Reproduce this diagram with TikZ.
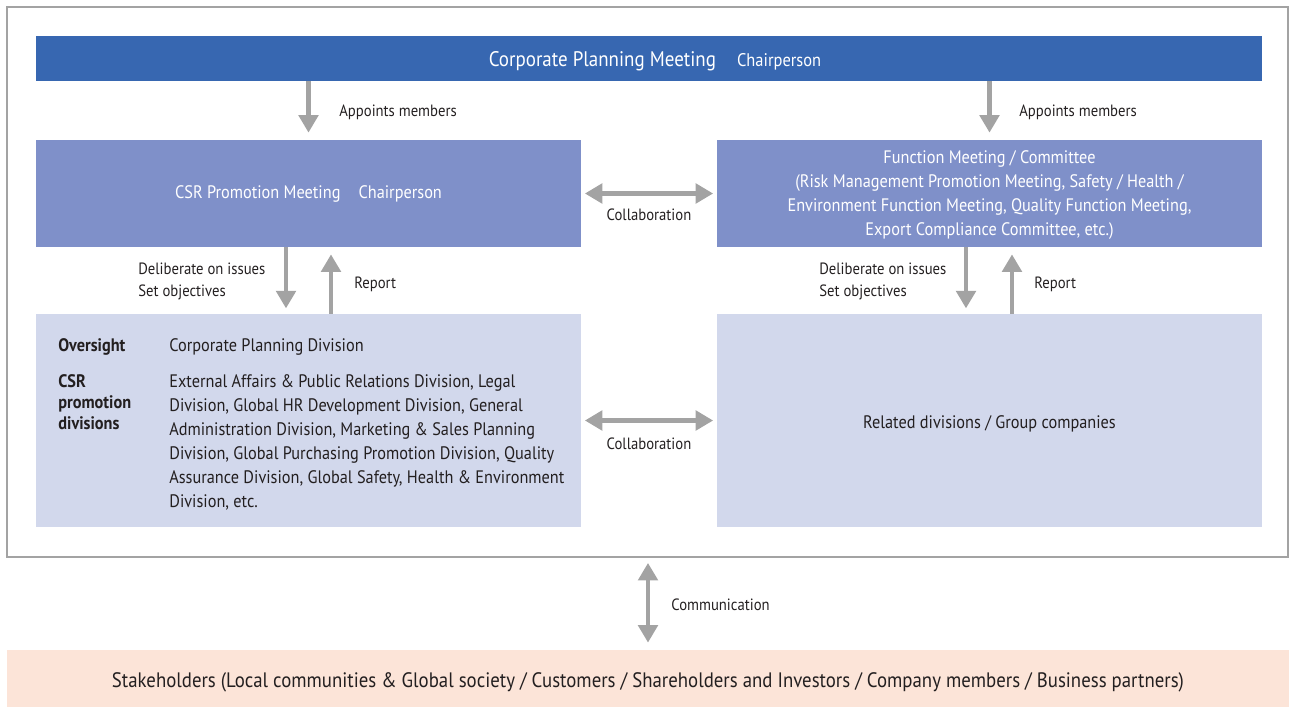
\documentclass[tikz,border=0pt]{standalone}
\usepackage{fontspec}
\setmainfont[FakeStretch=0.9]{PT Sans}
\usepackage{tikz}
\usetikzlibrary{arrows.meta}

\definecolor{topblue}{HTML}{3767B1}
\definecolor{midblue}{HTML}{7F90C9}
\definecolor{lowblue}{HTML}{D2D8EC}
\definecolor{stakepink}{HTML}{FCE4D8}
\definecolor{arrowgray}{HTML}{A3A3A3}
\definecolor{textdark}{HTML}{231F20}

\begin{document}
\begin{tikzpicture}[
    x=0.02cm, y=-0.02cm,
    font=\fontsize{10.3}{13.66}\selectfont,
    text=textdark,
    topbar/.style={rectangle,fill=topblue,text=white,minimum width=24.52cm,minimum height=0.9cm,inner sep=0pt},
    meeting/.style={rectangle,fill=midblue,text=white,minimum width=10.9cm,minimum height=2.14cm,inner sep=0pt,align=center},
    division/.style={rectangle,fill=lowblue,minimum width=10.9cm,minimum height=4.26cm,inner sep=0pt},
    label/.style={font=\fontsize{9.3}{12.5}\selectfont,inner sep=0pt,align=left},
    arrow/.style={-{Triangle[width=11pt,length=10pt]},line width=2.8pt,draw=arrowgray},
    twoway/.style={{Triangle[width=11pt,length=10pt]}-{Triangle[width=11pt,length=10pt]},line width=2.8pt,draw=arrowgray}
]
\useasboundingbox (0,0) rectangle (1289,707);

% outer frame
\node[rectangle,draw=arrowgray,line width=0.8pt,minimum width=25.62cm,minimum height=11cm,inner sep=0pt] (frame) at (647.5,282) {};

\node[topbar] (planning) at (649,58.5) {};
\node[text=white,inner sep=0pt] (planningtext) at (655,61) {\fontsize{12}{14}\selectfont Corporate Planning Meeting\quad{\fontsize{10.4}{12}\selectfont Chairperson}};

\node[meeting] (csr) at (308.5,193.5) {CSR Promotion Meeting\quad Chairperson};
\node[meeting] (func) at (989.5,193.5) {};
\node[text=white,align=center,inner sep=0pt] (functext) at (989.5,195.5) {Function Meeting / Committee\\
(Risk Management Promotion Meeting, Safety / Health /\\
Environment Function Meeting, Quality Function Meeting,\\
Export Compliance Committee, etc.)};

\node[division] (csrdiv) at (308.5,420.5) {};
\node[division] (related) at (989.5,420.5) {};
\node[inner sep=0pt] (relatedtext) at (989.5,423.5) {Related divisions / Group companies};

% contents of the CSR divisions box
\node[anchor=west,inner sep=0pt,font=\fontsize{10.3}{13.66}\selectfont\bfseries] (oversight) at (58,347) {Oversight};
\node[anchor=west,inner sep=0pt] (cpd) at (169,347) {Corporate Planning Division};
\node[anchor=north west,inner sep=0pt,align=left,font=\fontsize{10.3}{12}\selectfont\bfseries] (promo) at (58,374) {CSR\\promotion\\divisions};
\node[anchor=north west,inner sep=0pt,align=left] (promolist) at (169,374) {External Affairs \& Public Relations Division, Legal\\
Division, Global HR Development Division, General\\
Administration Division, Marketing \& Sales Planning\\
Division, Global Purchasing Promotion Division, Quality\\
Assurance Division, Global Safety, Health \& Environment\\
Division, etc.};

\node[rectangle,fill=stakepink,minimum width=25.64cm,minimum height=1.14cm,inner sep=0pt] (stake) at (648,678.5) {};
\node[inner sep=0pt,font=\fontsize{11.9}{13}\selectfont] (staketext) at (648,682) {Stakeholders (Local communities \& Global society / Customers / Shareholders and Investors / Company members / Business partners)};

% arrows
\draw[arrow,shorten >=4pt] (planning.south -| csr.north) -- (csr.north);
\draw[arrow,shorten >=4pt] (planning.south -| func.north) -- (func.north);
\draw[twoway,shorten <=2pt,shorten >=2pt] (csr.east) -- (func.west);
\draw[twoway,shorten <=2pt,shorten >=2pt] (csrdiv.east) -- (related.west);
\draw[arrow,shorten >=3pt] ([xshift=-0.45cm]csr.south) -- ([xshift=-0.45cm]csrdiv.north);
\draw[arrow,shorten >=4pt] ([xshift=0.45cm]csrdiv.north) -- ([xshift=0.45cm]csr.south);
\draw[arrow,shorten >=3pt] ([xshift=-0.47cm]func.south) -- ([xshift=-0.47cm]related.north);
\draw[arrow,shorten >=4pt] ([xshift=0.45cm]related.north) -- ([xshift=0.45cm]func.south);
\draw[twoway,shorten <=3pt,shorten >=4pt] (frame.south -| stake.north) -- (stake.north);

% labels
\node[label,anchor=west] (appointl) at (339,112) {Appoints members};
\node[label,anchor=west] (appointr) at (1019,112) {Appoints members};
\node[label] (collab1) at (649,215) {Collaboration};
\node[label] (collab2) at (649,444) {Collaboration};
\node[label,anchor=west] (delibl) at (138,281) {Deliberate on issues\\Set objectives};
\node[label,anchor=west] (reportl) at (354,284) {Report};
\node[label,anchor=west] (delibr) at (819,281) {Deliberate on issues\\Set objectives};
\node[label,anchor=west] (reportr) at (1034,284) {Report};
\node[label,anchor=west] (comm) at (671,605) {Communication};
\end{tikzpicture}
\end{document}
